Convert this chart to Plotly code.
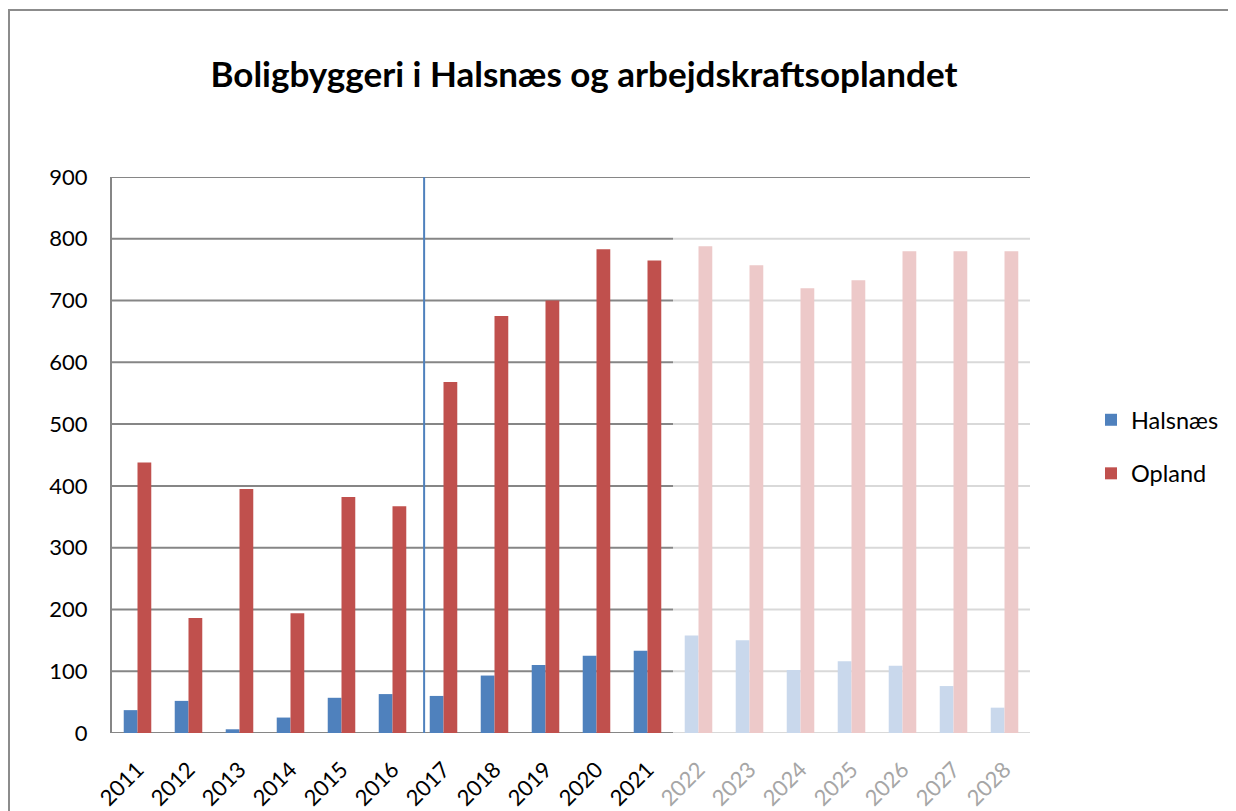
import plotly.graph_objects as go

years = list(range(2011, 2029))
halsnaes = [37, 52, 6, 25, 57, 63, 60, 93, 110, 125, 133, 158, 150, 102, 116, 109, 76, 41]
opland = [438, 186, 395, 194, 382, 367, 568, 675, 700, 783, 765, 788, 757, 720, 733, 780, 780, 780]
last_actual = 2021
divider_x = 2016.62

blue, blue_f = "#4F81BD", "#C9D8EC"
red, red_f = "#C0504D", "#EDC9C9"

hcol = [blue if y <= last_actual else blue_f for y in years]
ocol = [red if y <= last_actual else red_f for y in years]
ticktext = [str(y) if y <= last_actual else f"<span style='color:#A6A6A6'>{y}</span>" for y in years]

FONT = "Lato"
fig = go.Figure()
fig.add_trace(go.Bar(x=years, y=halsnaes, name="Halsnæs", marker=dict(color=hcol, line=dict(width=0)),
                     legendgroup="a"))
fig.add_trace(go.Bar(x=years, y=opland, name="Opland", marker=dict(color=ocol, line=dict(width=0)),
                     legendgroup="b"))

OFF = 8  # page body margin
W, H = 1236 - OFF, 811 - OFF
L = 112 - OFF
T = 177 - OFF
R = W - (1030 - OFF)
B = H - (733 - OFF)
pw, ph = W - L - R, H - T - B

def px(p):
    return (p - OFF - L) / pw

def py(p):
    return (H - B - (p - OFF)) / ph

shapes = []
dark, light = "#868686", "#D9D9D9"
split = last_actual + 0.5
for v in range(0, 901, 100):
    if v == 900:
        shapes.append(dict(type="line", xref="x", yref="y", x0=2010.5, x1=2028.5, y0=v, y1=v,
                           line=dict(color=dark, width=2), layer="below"))
    else:
        shapes.append(dict(type="line", xref="x", yref="y", x0=2010.5, x1=split, y0=v, y1=v,
                           line=dict(color=dark, width=2), layer="below"))
        shapes.append(dict(type="line", xref="x", yref="y", x0=split, x1=2028.5, y0=v, y1=v,
                           line=dict(color=light, width=2), layer="below"))
# divider
shapes.append(dict(type="line", xref="x", yref="y", x0=divider_x, x1=divider_x, y0=0, y1=900,
                   line=dict(color="#4F81BD", width=2)))
# outer frame
shapes.append(dict(type="rect", xref="paper", yref="paper", x0=px(9), x1=px(1250), y0=py(10), y1=py(840),
                   line=dict(color="#8C8C8C", width=2), fillcolor="rgba(0,0,0,0)", layer="below"))

fig.update_layout(
    width=W, height=H,
    margin=dict(l=L, r=R, t=T, b=B, autoexpand=False),
    paper_bgcolor="white", plot_bgcolor="white",
    barmode="group", bargap=0.46, bargroupgap=0,
    font=dict(family=FONT, size=22, color="black"),
    title=dict(text="<b>Boligbyggeri i Halsnæs og arbejdskraftsoplandet</b>",
               xref="container", x=(584 - OFF) / W, xanchor="center",
               yref="container", y=1 - (75 - OFF) / H, yanchor="middle",
               font=dict(family=FONT, size=35, color="black")),
    xaxis=dict(range=[2010.5, 2028.5], tickmode="array", tickvals=years, ticktext=ticktext,
               tickangle=-45, showgrid=False, zeroline=False, showline=False,
               ticks="outside", ticklen=14, tickcolor="rgba(0,0,0,0)",
               automargin=False, tickfont=dict(size=22, color="black")),
    yaxis=dict(range=[0, 900], dtick=100, showgrid=False, zeroline=False,
               showline=True, linecolor=dark, linewidth=2, ticks="",
               ticklabelstandoff=18, automargin=False,
               tickfont=dict(size=22, color="black")),
    legend=dict(x=px(1091), xanchor="left", y=py(447), yanchor="middle",
                font=dict(size=23.5), tracegroupgap=20, bgcolor="rgba(0,0,0,0)",
                itemwidth=30),
    shapes=shapes,
)

fig.write_html("out.html")
